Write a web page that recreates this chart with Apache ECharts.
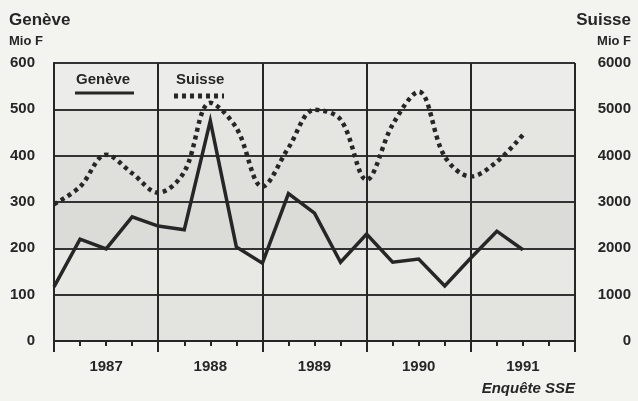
<!DOCTYPE html>
<html>
<head>
<meta charset="utf-8">
<script src="https://cdn.jsdelivr.net/npm/echarts@6/dist/echarts.min.js"></script>
<style>
  html, body { margin: 0; padding: 0; background: #f3f3f0; }
  #chart { width: 638px; height: 401px; }
</style>
</head>
<body>
<div id="chart"></div>
<script>
// données trimestrielles, 1987 T1 .. 1991 T3
const yearLabels = ['1987', '1988', '1989', '1990', '1991'];
const genevaValues = [117, 220, 199, 268, 248, 240, 475, 203, 168, 318, 276, 170, 231, 170, 177, 119, 179, 237, 197];
const suisseValues = [2950, 3330, 4020, 3620, 3200, 3650, 5140, 4600, 3330, 4170, 4990, 4780, 3480, 4670, 5380, 3980, 3550, 3870, 4450];

const chart = echarts.init(document.getElementById('chart'));
const ink = '#262626';
const font = 'Liberation Sans, Arial, sans-serif';

// position x = index du trimestre
const genevaData = genevaValues.map((v, i) => [i, v]);
const suisseData = suisseValues.map((v, i) => [i, v]);

const option = {
    backgroundColor: '#f3f3f0',
    animation: false,
    grid: { left: 54, right: 63, top: 63, bottom: 60, show: false },
    xAxis: [{
        type: 'value', min: 0, max: 20, interval: 1,
        axisLine: { show: true, lineStyle: { color: ink, width: 2 } },
        axisTick: { show: true, length: 5, lineStyle: { color: ink, width: 2 } },
        splitLine: { show: false },
        axisLabel: {
            margin: 18, color: ink, fontFamily: font, fontWeight: 'bold', fontSize: 15,
            formatter: v => (v % 4 === 2 ? yearLabels[(v - 2) / 4] || '' : '')
        }
    }, {
        type: 'value', min: 0, max: 20, interval: 4, position: 'bottom',
        axisLine: { show: false },
        axisTick: { show: true, length: 11, lineStyle: { color: ink, width: 2 } },
        axisLabel: { show: false },
        splitLine: { show: true, lineStyle: { color: ink, width: 2 } }
    }],
    yAxis: [{
        type: 'value', min: 0, max: 600, interval: 100, position: 'left',
        axisLine: { show: true, lineStyle: { color: ink, width: 2 } },
        axisTick: { show: false },
        axisLabel: { margin: 19, color: ink, fontFamily: font, fontWeight: 'bold', fontSize: 15 },
        splitLine: { show: true, lineStyle: { color: '#333', width: 2 } },
        splitArea: {
            show: true,
            areaStyle: { color: ['#e3e3e0', '#e8e8e5', '#dbdbd8', '#dfdfdc', '#e5e5e2', '#ececea'] }
        }
    }, {
        type: 'value', min: 0, max: 6000, interval: 1000, position: 'right',
        axisLine: { show: true, lineStyle: { color: ink, width: 2 } },
        axisTick: { show: false },
        axisLabel: {
            margin: 56, align: 'right', color: ink, fontFamily: font, fontWeight: 'bold', fontSize: 15,
            formatter: v => String(v)
        },
        splitLine: { show: false }
    }],
    graphic: [
        { type: 'text', left: 9, top: 12, z: 100, style: { text: 'Genève', fill: ink, font: 'bold 17px ' + font } },
        { type: 'text', left: 9, top: 35, z: 100, style: { text: 'Mio F', fill: ink, font: 'bold 13px ' + font } },
        { type: 'text', right: 7, top: 12, z: 100, style: { text: 'Suisse', fill: ink, font: 'bold 17px ' + font } },
        { type: 'text', right: 7, top: 35, z: 100, style: { text: 'Mio F', fill: ink, font: 'bold 13px ' + font } },
        { type: 'text', right: 63, top: 381, z: 100, style: { text: 'Enquête SSE', fill: ink, font: 'italic bold 15px ' + font } },
        // légende
        { type: 'text', left: 76, top: 72, z: 100, style: { text: 'Genève', fill: ink, font: 'bold 15px ' + font } },
        { type: 'line', z: 100, shape: { x1: 75, y1: 93, x2: 134, y2: 93 }, style: { stroke: ink, lineWidth: 3 } },
        { type: 'text', left: 176, top: 72, z: 100, style: { text: 'Suisse', fill: ink, font: 'bold 15px ' + font } },
        { type: 'line', z: 100, shape: { x1: 174, y1: 96, x2: 224, y2: 96 }, style: { stroke: ink, lineWidth: 5, lineDash: [4, 4] } }
    ],
    series: [{
        name: 'Suisse', type: 'line', xAxisIndex: 0, yAxisIndex: 1,
        data: suisseData, smooth: 0.35, symbol: 'none',
        lineStyle: { color: ink, width: 4.5, type: [4, 4] }
    }, {
        name: 'Genève', type: 'line', xAxisIndex: 0, yAxisIndex: 0,
        data: genevaData, symbol: 'none',
        lineStyle: { color: ink, width: 3.5, join: 'miter' }
    }]
};

chart.setOption(option);
</script>
</body>
</html>
